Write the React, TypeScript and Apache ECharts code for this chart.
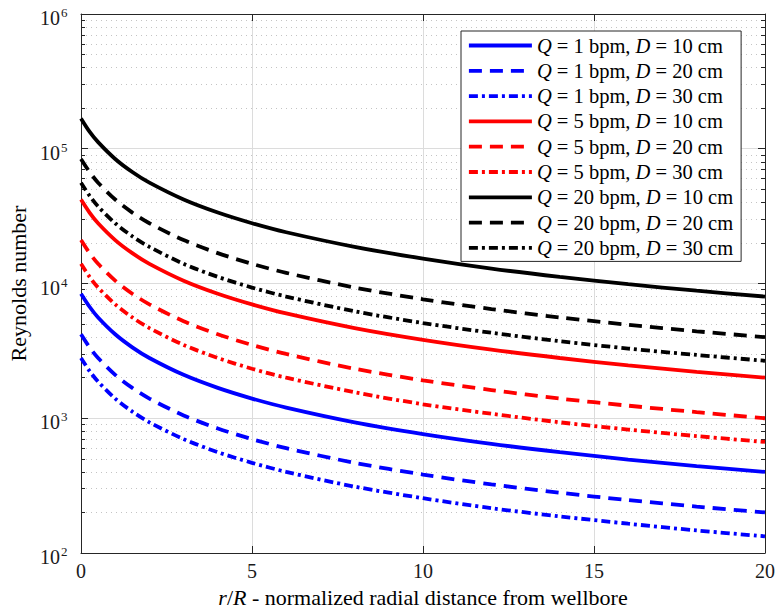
import React, { useEffect, useRef } from "react";
import * as echarts from "echarts";

// r/R sample positions
const xValues = [0, 0.25, 0.5, 1, 1.5, 2, 3, 4, 5, 6, 8, 10, 12, 14, 16, 18, 20];

// Reynolds number
const reQ1D10 = [8400, 6720, 5600, 4200, 3360, 2800, 2100, 1680, 1400, 1200, 933, 764, 646, 560, 494, 442, 400];
const reQ1D20 = [4200, 3360, 2800, 2100, 1680, 1400, 1050, 840, 700, 600, 467, 382, 323, 280, 247, 221, 200];
const reQ1D30 = [2800, 2240, 1870, 1400, 1120, 933, 700, 560, 467, 400, 311, 255, 215, 187, 165, 147, 133];
const reQ5D10 = [42000, 33600, 28000, 21000, 16800, 14000, 10500, 8400, 7000, 6000, 4670, 3820, 3230, 2800, 2470, 2210, 2000];
const reQ5D20 = [21000, 16800, 14000, 10500, 8400, 7000, 5250, 4200, 3500, 3000, 2330, 1910, 1620, 1400, 1240, 1110, 1000];
const reQ5D30 = [14000, 11200, 9330, 7000, 5600, 4670, 3500, 2800, 2330, 2000, 1560, 1270, 1080, 933, 824, 737, 667];
const reQ20D10 = [168000, 134000, 112000, 84000, 67200, 56000, 42000, 33600, 28000, 24000, 18700, 15300, 12900, 11200, 9880, 8840, 8000];
const reQ20D20 = [84000, 67200, 56000, 42000, 33600, 28000, 21000, 16800, 14000, 12000, 9330, 7640, 6460, 5600, 4940, 4420, 4000];
const reQ20D30 = [56000, 44800, 37300, 28000, 22400, 18700, 14000, 11200, 9330, 8000, 6220, 5090, 4310, 3730, 3290, 2950, 2670];

const seriesNames = [
  "Q = 1 bpm, D = 10 cm",
  "Q = 1 bpm, D = 20 cm",
  "Q = 1 bpm, D = 30 cm",
  "Q = 5 bpm, D = 10 cm",
  "Q = 5 bpm, D = 20 cm",
  "Q = 5 bpm, D = 30 cm",
  "Q = 20 bpm, D = 10 cm",
  "Q = 20 bpm, D = 20 cm",
  "Q = 20 bpm, D = 30 cm",
];
const seriesValues = [reQ1D10, reQ1D20, reQ1D30, reQ5D10, reQ5D20, reQ5D30, reQ20D10, reQ20D20, reQ20D30];
const seriesColors = ["#0000ff", "#0000ff", "#0000ff", "#ff0000", "#ff0000", "#ff0000", "#000000", "#000000", "#000000"];
const seriesDash = ["solid", "dashed", "dashdot", "solid", "dashed", "dashdot", "solid", "dashed", "dashdot"];

// axis ranges / ticks
const xMin = 0;
const xMax = 20;
const xInterval = 5;
const yMin = 100;
const yMax = 1000000;
const xTickLabels = [0, 5, 10, 15, 20];
const yTickExponents = [2, 3, 4, 5, 6];
const xTitle = "r/R - normalized radial distance from wellbore";
const yTitle = "Reynolds number";
const minorTickValues: number[] = [];
for (let e = 2; e < 6; e++) {
  for (let m = 2; m <= 9; m++) minorTickValues.push(m * Math.pow(10, e));
}

const FONT = "'Liberation Serif', 'Times New Roman', serif";
const AXIS_COLOR = "#262626";
const LABEL_COLOR = "#1a1a1a";

export default function App() {
  const ref = useRef<HTMLDivElement>(null);
  useEffect(() => {
    document.body.style.margin = "0";
    if (!ref.current) return;
    const chart = echarts.init(ref.current, undefined, { renderer: "svg" });

    const dashMap: Record<string, any> = {
      solid: "solid",
      dashed: [13, 8],
      dashdot: [9, 4, 3, 4],
    };

    const lineSeries = seriesNames.map((name, i) => ({
      name,
      type: "line",
      xAxisIndex: 0,
      yAxisIndex: 0,
      data: xValues.map((x, j) => [x, seriesValues[i][j]]),
      smooth: 0.3,
      showSymbol: false,
      symbol: "none",
      silent: true,
      z: 5,
      lineStyle: { color: seriesColors[i], width: 3.8, type: dashMap[seriesDash[i]], cap: "butt" },
      itemStyle: { color: seriesColors[i] },
    }));

    // minor grid (dotted) + minor ticks on left/right edges
    const tickLen = ((xMax - xMin) * 4) / 684;
    const minorLines: any[] = [];
    minorTickValues.forEach((v) => {
      minorLines.push([
        { coord: [xMin, v], lineStyle: { color: "#c4c4c4", width: 1, type: [1, 4] } },
        { coord: [xMax, v] },
      ]);
      minorLines.push([
        { coord: [xMin, v], lineStyle: { color: AXIS_COLOR, width: 1, type: "solid" } },
        { coord: [xMin + tickLen, v] },
      ]);
      minorLines.push([
        { coord: [xMax - tickLen, v], lineStyle: { color: AXIS_COLOR, width: 1, type: "solid" } },
        { coord: [xMax, v] },
      ]);
    });
    const minorSeries = {
      name: "minor grid",
      type: "line",
      xAxisIndex: 0,
      yAxisIndex: 0,
      data: [],
      silent: true,
      z: 1,
      symbol: "none",
      markLine: {
        silent: true,
        animation: false,
        symbol: ["none", "none"],
        label: { show: false },
        emphasis: { disabled: true },
        lineStyle: { color: "#c4c4c4", width: 1, type: [1, 4] },
        data: minorLines,
      },
    };

    // x tick labels placed through the x scale
    const xLabelSeries = {
      name: "x labels",
      type: "custom",
      xAxisIndex: 0,
      yAxisIndex: 0,
      silent: true,
      clip: false,
      z: 6,
      data: xTickLabels.map((v) => [v, yMin]),
      renderItem: (params: any, api: any) => {
        const v = api.value(0);
        const p = api.coord([v, yMin]);
        return {
          type: "text",
          x: p[0],
          y: p[1] + 8,
          style: {
            text: String(v),
            fontFamily: FONT,
            fontSize: 20,
            fill: LABEL_COLOR,
            align: "center",
            verticalAlign: "top",
          },
        };
      },
    };

    // y tick labels (10^n) placed through the log scale
    const yLabelSeries = {
      name: "y labels",
      type: "custom",
      xAxisIndex: 0,
      yAxisIndex: 0,
      silent: true,
      clip: false,
      z: 6,
      data: yTickExponents.map((e) => [xMin, Math.pow(10, e), e]),
      renderItem: (params: any, api: any) => {
        const v = api.value(1);
        const e = api.value(2);
        const p = api.coord([xMin, v]);
        return {
          type: "group",
          children: [
            {
              type: "text",
              x: p[0] - 21,
              y: p[1] + 4,
              style: {
                text: "10",
                fontFamily: FONT,
                fontSize: 20,
                fill: LABEL_COLOR,
                align: "right",
                verticalAlign: "middle",
              },
            },
            {
              type: "text",
              x: p[0] - 20,
              y: p[1] - 1.5,
              style: {
                text: String(e),
                fontFamily: FONT,
                fontSize: 13,
                fill: LABEL_COLOR,
                align: "left",
                verticalAlign: "middle",
              },
            },
          ],
        };
      },
    };

    // axis titles positioned from the grid rectangle
    const titleSeries = {
      name: "titles",
      type: "custom",
      xAxisIndex: 0,
      yAxisIndex: 0,
      silent: true,
      clip: false,
      z: 6,
      data: [[xMin, yMin]],
      renderItem: (params: any, api: any) => {
        const bl = api.coord([xMin, yMin]);
        const tr = api.coord([xMax, yMax]);
        const cx = (bl[0] + tr[0]) / 2;
        const cy = (bl[1] + tr[1]) / 2;
        const parts = xTitle.match(/^(r)(\/)(R)(.*)$/) || ["", "", "", "", xTitle];
        return {
          type: "group",
          children: [
            {
              type: "text",
              x: cx,
              y: bl[1] + 44,
              style: {
                text: `{i|${parts[1]}}{n|${parts[2]}}{i|${parts[3]}}{n|${parts[4]}}`,
                fontFamily: FONT,
                fontSize: 22,
                fill: "#000",
                align: "center",
                verticalAlign: "middle",
                rich: {
                  i: { fontFamily: FONT, fontStyle: "italic", fontSize: 22, fill: "#000" },
                  n: { fontFamily: FONT, fontSize: 22, fill: "#000" },
                },
              },
            },
            {
              type: "text",
              x: bl[0] - 63,
              y: cy,
              rotation: Math.PI / 2,
              style: {
                text: yTitle,
                fontFamily: FONT,
                fontSize: 22,
                fill: "#000",
                align: "center",
                verticalAlign: "middle",
              },
            },
          ],
        };
      },
    };

    const LEG = 20.5;
    const legendRich = {
      n: { fontFamily: FONT, fontSize: LEG, color: "#000" },
      i: { fontFamily: FONT, fontStyle: "italic", fontSize: LEG, color: "#000" },
    };
    const legendFormat = (name: string) => {
      const m = name.match(/^Q(.*?), D(.*)$/);
      if (!m) return `{n|${name}}`;
      return `{i|Q}{n|${m[1]}, }{i|D}{n|${m[2]}}`;
    };

    chart.setOption({
      animation: false,
      textStyle: { fontFamily: FONT },
      grid: { left: 81, top: 14, width: 684, height: 539 },
      legend: {
        show: true,
        data: seriesNames,
        orient: "vertical",
        left: 461,
        top: 31,
        selectedMode: false,
        backgroundColor: "#ffffff",
        borderColor: AXIS_COLOR,
        borderWidth: 1,
        borderRadius: 0,
        padding: [4, 8, 3, 6],
        itemGap: 4.3,
        itemWidth: 63,
        itemHeight: 14,
        z: 20,
        itemStyle: { color: "transparent", borderWidth: 0, opacity: 0 },
        lineStyle: { width: 3.8 },
        textStyle: { fontFamily: FONT, fontSize: LEG, lineHeight: 21, color: "#000", rich: legendRich },
        formatter: legendFormat,
      },
      xAxis: [
        {
          type: "value",
          min: xMin,
          max: xMax,
          interval: xInterval,
          position: "bottom",
          axisLine: { show: true, onZero: false, lineStyle: { color: AXIS_COLOR, width: 1 } },
          axisTick: { show: true, inside: true, length: 7, lineStyle: { color: AXIS_COLOR } },
          axisLabel: { show: false },
          splitLine: { show: true, lineStyle: { color: "#dcdcdc", width: 1 } },
        },
        {
          type: "value",
          min: xMin,
          max: xMax,
          interval: xInterval,
          position: "top",
          axisLine: { show: true, onZero: false, lineStyle: { color: AXIS_COLOR, width: 1 } },
          axisTick: { show: true, inside: true, length: 7, lineStyle: { color: AXIS_COLOR } },
          axisLabel: { show: false },
          splitLine: { show: false },
        },
      ],
      yAxis: [
        {
          type: "log",
          logBase: 10,
          min: yMin,
          max: yMax,
          position: "left",
          axisLine: { show: true, onZero: false, lineStyle: { color: AXIS_COLOR, width: 1 } },
          axisTick: { show: true, inside: true, length: 7, lineStyle: { color: AXIS_COLOR } },
          axisLabel: { show: false },
          splitLine: { show: true, lineStyle: { color: "#dcdcdc", width: 1 } },
        },
        {
          type: "log",
          logBase: 10,
          min: yMin,
          max: yMax,
          position: "right",
          axisLine: { show: true, onZero: false, lineStyle: { color: AXIS_COLOR, width: 1 } },
          axisTick: { show: true, inside: true, length: 7, lineStyle: { color: AXIS_COLOR } },
          axisLabel: { show: false },
          splitLine: { show: false },
        },
      ],
      series: [minorSeries, ...lineSeries, xLabelSeries, yLabelSeries, titleSeries],
    });

    return () => {
      chart.dispose();
    };
  }, []);

  return <div ref={ref} style={{ width: 776, height: 616 }} />;
}
